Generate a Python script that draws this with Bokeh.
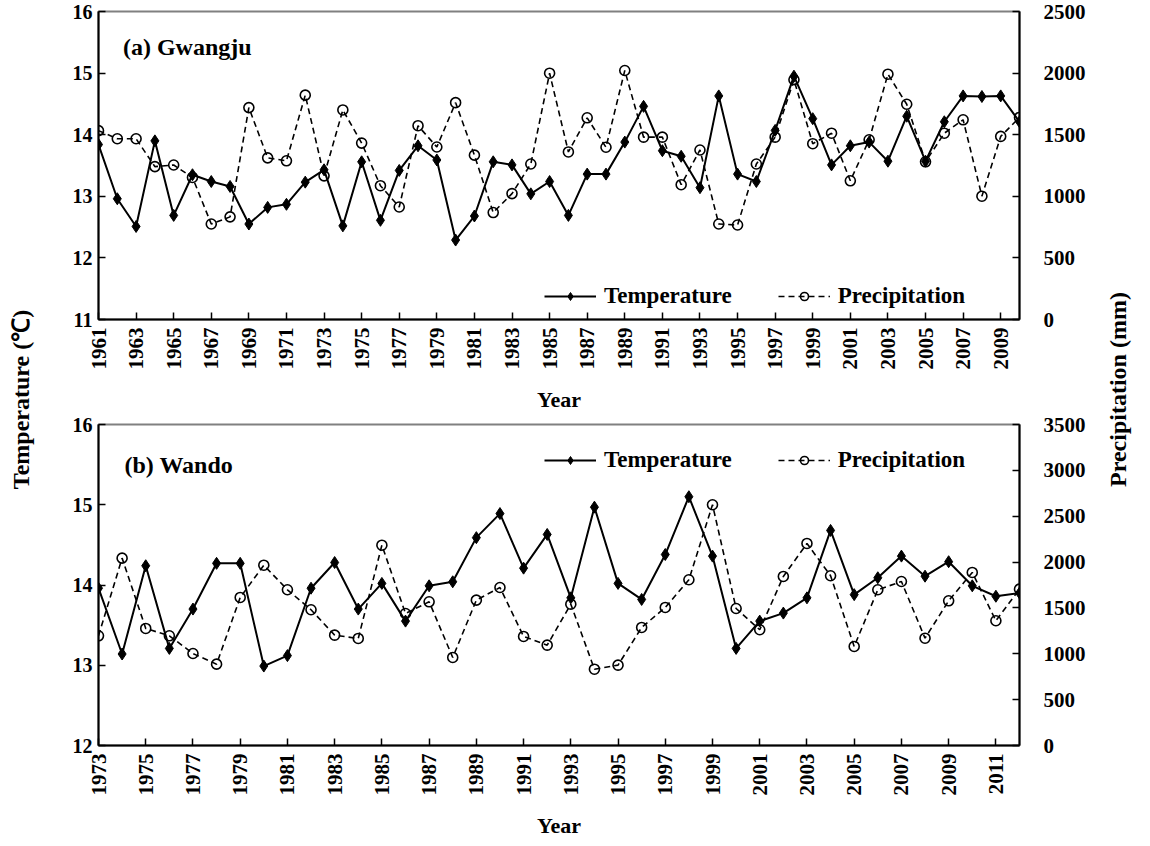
import math
from bokeh.plotting import figure
from bokeh.models import Range1d, LinearAxis, FixedTicker, Legend, LegendItem, Label
from bokeh.layouts import row, column
from bokeh.embed import file_html
from bokeh.resources import INLINE

# ---------------- data ----------------
g_years = list(range(1961, 2011))
g_temp = [13.84, 12.96, 12.51, 13.90, 12.69, 13.35, 13.24, 13.16, 12.55, 12.82,
          12.87, 13.23, 13.43, 12.52, 13.56, 12.61, 13.42, 13.82, 13.59, 12.29,
          12.68, 13.56, 13.51, 13.04, 13.24, 12.69, 13.36, 13.36, 13.88, 14.46,
          13.74, 13.65, 13.14, 14.63, 13.36, 13.24, 14.07, 14.95, 14.26, 13.51,
          13.82, 13.88, 13.57, 14.30, 13.57, 14.21, 14.63, 14.62, 14.63, 14.21]
g_prec = [1533, 1467, 1467, 1241, 1254, 1153, 775, 833, 1720, 1312,
          1288, 1821, 1166, 1701, 1432, 1086, 913, 1573, 1400, 1760,
          1334, 868, 1022, 1262, 1999, 1360, 1637, 1398, 2021, 1480,
          1480, 1094, 1376, 775, 767, 1262, 1480, 1946, 1427, 1512,
          1126, 1459, 1991, 1747, 1280, 1512, 1621, 1001, 1486, 1640]

w_years = list(range(1973, 2013))
w_temp = [13.96, 13.14, 14.24, 13.21, 13.70, 14.27, 14.27, 12.99, 13.12, 13.96,
          14.28, 13.70, 14.02, 13.55, 13.99, 14.04, 14.59, 14.89, 14.21, 14.63,
          13.84, 14.97, 14.02, 13.82, 14.38, 15.10, 14.36, 13.21, 13.55, 13.65,
          13.84, 14.68, 13.88, 14.09, 14.36, 14.11, 14.29, 13.99, 13.86, 13.90]
w_prec = [1196, 2043, 1276, 1196, 1003, 887, 1614, 1966, 1698, 1480,
          1203, 1167, 2184, 1439, 1567, 960, 1585, 1723, 1189, 1094,
          1541, 832, 876, 1287, 1505, 1807, 2625, 1494, 1262, 1843,
          2203, 1851, 1080, 1698, 1788, 1170, 1578, 1887, 1360, 1705]

g_temp_ticks = [11, 12, 13, 14, 15, 16]
g_prec_ticks = [0, 500, 1000, 1500, 2000, 2500]
w_temp_ticks = [12, 13, 14, 15, 16]
w_prec_ticks = [0, 500, 1000, 1500, 2000, 2500, 3000, 3500]

title_a = "(a) Gwangju"
title_b = "(b) Wando"
FONT = "Liberation Serif"


def style_axis(ax, size="20px"):
    ax.axis_line_color = "black"
    ax.axis_line_width = 2
    ax.major_tick_in = 7
    ax.major_tick_out = 0
    ax.major_tick_line_width = 1.5
    ax.major_tick_line_color = "black"
    ax.minor_tick_line_color = None
    ax.major_label_text_font = FONT
    ax.major_label_text_font_style = "bold"
    ax.major_label_text_font_size = size
    ax.major_label_text_color = "black"


def panel(years, temp, prec, t_ticks, p_ticks, ttl, ttl_xy, leg_y, top_border, fh):
    p = figure(frame_width=921, frame_height=fh, output_backend="svg",
               toolbar_location=None,
               x_range=Range1d(years[0], years[-1]),
               y_range=Range1d(t_ticks[0], t_ticks[-1]),
               min_border_left=48, min_border_right=80,
               min_border_top=top_border, min_border_bottom=90)
    p.extra_y_ranges = {"prec": Range1d(p_ticks[0], p_ticks[-1])}
    p.xgrid.visible = False
    p.ygrid.visible = False
    p.outline_line_color = "#808080"
    p.outline_line_width = 2
    p.background_fill_color = "white"
    p.border_fill_color = "white"

    # x axis
    xa = p.xaxis[0]
    xa.ticker = FixedTicker(ticks=years[::2])
    style_axis(xa, "21px")
    xa.major_label_orientation = math.pi / 2
    xa.major_label_standoff = 8
    xa.axis_label = "Year"
    xa.axis_label_text_font = FONT
    xa.axis_label_text_font_style = "bold"
    xa.axis_label_text_font_size = "22px"
    xa.axis_label_text_color = "black"
    xa.axis_label_standoff = 14

    ya = p.yaxis[0]
    ya.ticker = FixedTicker(ticks=t_ticks)
    style_axis(ya, "20px")
    ya.major_label_standoff = 6

    ra = LinearAxis(y_range_name="prec", ticker=FixedTicker(ticks=p_ticks))
    style_axis(ra, "21px")
    ra.major_label_standoff = 24
    p.add_layout(ra, "right")

    # series
    pl = p.line(years, prec, y_range_name="prec", line_color="black",
                line_width=1.6, line_dash="6 4")
    pc = p.scatter(years, prec, y_range_name="prec", marker="circle", size=10,
                   line_color="black", line_width=1.6, fill_color=None)
    tl = p.line(years, temp, line_color="black", line_width=2)
    td = p.scatter(years, temp, marker="diamond", size=12,
                   line_color="black", fill_color="black", line_width=1)

    leg = Legend(items=[LegendItem(label="Temperature", renderers=[tl, td]),
                        LegendItem(label="Precipitation", renderers=[pl, pc])],
                 orientation="horizontal", location=(446, leg_y),
                 border_line_color=None, background_fill_alpha=0,
                 padding=0, margin=0, spacing=46, glyph_width=52, glyph_height=20,
                 label_standoff=8, label_height=20,
                 label_text_font=FONT, label_text_font_style="bold",
                 label_text_font_size="23px", label_text_color="black")
    p.add_layout(leg)

    p.add_layout(Label(x=ttl_xy[0], y=ttl_xy[1], text=ttl, text_font=FONT,
                       text_font_style="bold", text_font_size="24px",
                       text_color="black",
                       text_baseline="middle", text_align="left"))
    return p


top = panel(g_years, g_temp, g_prec, g_temp_ticks, g_prec_ticks, title_a,
            (1962.3, 15.42), 10, 11, 308)
bot = panel(w_years, w_temp, w_prec, w_temp_ticks, w_prec_ticks, title_b,
            (1974.1, 15.5), 272, 10, 321)

H = 830


def side(width, cx, cy, txt):
    f = figure(width=width, height=H, output_backend="svg", toolbar_location=None,
               x_range=Range1d(0, width), y_range=Range1d(0, H), min_border=0)
    f.axis.visible = False
    f.grid.visible = False
    f.outline_line_color = None
    f.add_layout(Label(x=cx, y=H - cy, text=txt, angle=math.pi / 2,
                       text_font=FONT, text_font_style="bold",
                       text_font_size="24px", text_align="center",
                       text_color="black",
                       text_baseline="middle"))
    return f


left = side(50, 20, 399, "Temperature (\u2103)")
right = side(35, 18, 389, "Precipitation (mm)")

layout = row(left, column(top, bot), right)
open("out.html", "w").write(file_html(layout, INLINE))
